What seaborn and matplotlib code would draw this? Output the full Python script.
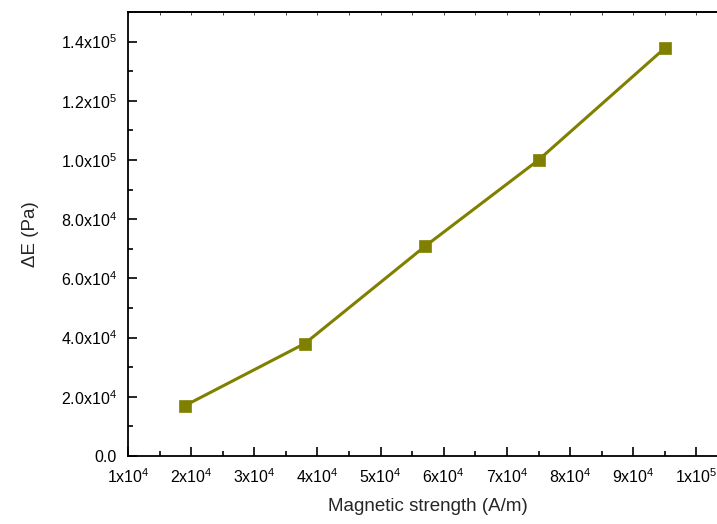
import matplotlib
matplotlib.use("Agg")
import matplotlib.pyplot as plt
from matplotlib.ticker import MultipleLocator, FixedLocator, FixedFormatter
import seaborn as sns
import pandas as pd

# data
field = [1.9e4, 3.8e4, 5.7e4, 7.5e4, 9.5e4]
delta_e = [1.7e4, 3.8e4, 7.08e4, 1.0e5, 1.378e5]

x_ticks = [1e4, 2e4, 3e4, 4e4, 5e4, 6e4, 7e4, 8e4, 9e4, 1e5]
x_labels = ["1x10$^{4}$", "2x10$^{4}$", "3x10$^{4}$", "4x10$^{4}$", "5x10$^{4}$",
            "6x10$^{4}$", "7x10$^{4}$", "8x10$^{4}$", "9x10$^{4}$", "1x10$^{5}$"]
y_ticks = [0, 2e4, 4e4, 6e4, 8e4, 1e5, 1.2e5, 1.4e5]
y_labels = ["0.0", "2.0x10$^{4}$", "4.0x10$^{4}$", "6.0x10$^{4}$", "8.0x10$^{4}$",
            "1.0x10$^{5}$", "1.2x10$^{5}$", "1.4x10$^{5}$"]

sns.set_style("ticks")
plt.rcParams["font.family"] = ["Liberation Sans", "DejaVu Sans"]
plt.rcParams["mathtext.fontset"] = "custom"
plt.rcParams["mathtext.rm"] = "Liberation Sans"
plt.rcParams["mathtext.it"] = "Liberation Sans"

df = pd.DataFrame({"H": field, "dE": delta_e})

fig = plt.figure(figsize=(7.17, 5.24), dpi=100)
ax = fig.add_axes([128 / 717, 68 / 524, 600 / 717, 444 / 524])

sns.lineplot(data=df, x="H", y="dE", ax=ax, color="#808000", linewidth=2.2,
             marker="s", markersize=8, markeredgecolor="#808000", markeredgewidth=0.5)

ax.set_xlim(1e4, 1.05e5)
ax.set_ylim(0, 1.5e5)

ax.xaxis.set_major_locator(FixedLocator(x_ticks))
ax.xaxis.set_major_formatter(FixedFormatter(x_labels))
ax.xaxis.set_minor_locator(MultipleLocator(1e4 / 2))
ax.yaxis.set_major_locator(FixedLocator(y_ticks))
ax.yaxis.set_major_formatter(FixedFormatter(y_labels))
ax.yaxis.set_minor_locator(MultipleLocator(1e4))

ax.tick_params(which="both", direction="in", width=1.2, colors="black", labelsize=11.5)
ax.tick_params(which="major", length=6.5, pad=8)
ax.tick_params(which="minor", length=3.5)

for s in ax.spines.values():
    s.set_linewidth(1.3)
    s.set_color("black")

top = ax.secondary_xaxis("top")
top.xaxis.set_major_locator(MultipleLocator(5e3))
top.tick_params(direction="in", length=2, width=0.6, labeltop=False)
top.spines["top"].set_linewidth(1.3)

ax.set_xlabel("Magnetic strength (A/m)", fontsize=13.5, labelpad=9)
ax.set_ylabel("ΔE (Pa)", fontsize=13.5, labelpad=16)

fig.savefig("out.png", dpi=100)
